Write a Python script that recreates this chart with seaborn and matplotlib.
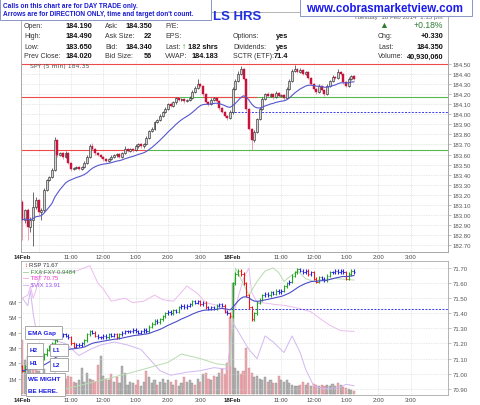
import numpy as np
import pandas as pd
import matplotlib
matplotlib.use("Agg")
import matplotlib.pyplot as plt
import seaborn as sns
from matplotlib.patches import Rectangle

sns.set_style("white")
plt.rcParams["font.family"] = ["Liberation Sans", "DejaVu Sans"]

# ---------------- data ----------------
# SPY 5-min closes: bars 0-77 = 14 Feb, bars 78-123 = 18 Feb
spy_close = [
    182.95, 183.05, 182.88, 182.95, 183.08, 183.15, 183.03, 183.05, 183.25, 183.35,
    183.38, 183.45, 183.74, 183.60, 183.62, 183.58, 183.62, 183.52, 183.46, 183.47,
    183.48, 183.46, 183.48, 183.52, 183.58, 183.68, 183.66, 183.62, 183.60, 183.58,
    183.56, 183.54, 183.56, 183.58, 183.60, 183.61, 183.58, 183.62, 183.66, 183.64,
    183.66, 183.65, 183.68, 183.70, 183.68, 183.70, 183.76, 183.83, 183.85, 183.92,
    183.94, 183.98, 184.02, 184.05, 184.10, 184.08, 184.12, 184.16, 184.14, 184.15,
    184.13, 184.14, 184.16, 184.22, 184.26, 184.30, 184.28, 184.20, 184.12, 184.10,
    184.14, 184.16, 184.13, 184.06, 184.02, 183.98, 183.96, 184.02,
    184.25, 184.33, 184.40, 184.45, 184.35, 184.05, 183.85, 183.74, 183.82, 183.95,
    184.05, 184.15, 184.20, 184.18, 184.20, 184.17, 184.21, 184.18, 184.19, 184.16,
    184.25, 184.33, 184.43, 184.45, 184.42, 184.44, 184.40, 184.42, 184.36, 184.30,
    184.25, 184.22, 184.28, 184.24, 184.20, 184.28, 184.33, 184.37, 184.36, 184.42,
    184.40, 184.32, 184.28, 184.35, 184.38, 184.35,
]
spy_open0 = 183.13
# wick size in cents above / below the candle body
spy_hi_wick = [
    2, 1, 2, 3, 15, 3, 1, 2, 2, 1, 1, 2, 3, 1, 1, 1, 2, 1, 1, 1, 1, 1, 1, 2, 2, 2,
    3, 1, 1, 1, 1, 1, 1, 2, 1, 1, 1, 1, 2, 1, 1, 1, 2, 1, 1, 1, 2, 1, 2, 1, 1, 2,
    1, 2, 1, 2, 1, 1, 1, 1, 1, 1, 2, 2, 2, 5, 1, 1, 1, 1, 2, 1, 1, 1, 1, 1, 1, 2,
    2, 2, 3, 3, 1, 1, 1, 1, 2, 1, 2, 2, 1, 2, 1, 1, 2, 1, 1, 1, 2, 2, 2, 4, 1, 2,
    1, 1, 1, 1, 1, 1, 2, 1, 1, 2, 1, 2, 1, 3, 1, 1, 1, 2, 1, 1,
]
spy_lo_wick = [
    20, 3, 13, 5, 26, 2, 3, 8, 2, 1, 1, 1, 1, 2, 1, 2, 1, 1, 2, 1, 1, 1, 1, 1, 1, 1,
    1, 2, 1, 1, 2, 1, 1, 1, 1, 2, 1, 1, 1, 1, 1, 2, 1, 1, 1, 1, 1, 1, 1, 1, 1, 1,
    1, 1, 1, 1, 1, 2, 1, 1, 2, 1, 1, 1, 1, 1, 1, 2, 1, 2, 1, 1, 1, 2, 1, 1, 2, 1,
    2, 1, 1, 1, 1, 2, 1, 9, 2, 1, 1, 1, 1, 1, 1, 2, 1, 1, 1, 2, 1, 1, 1, 1, 1, 1,
    1, 1, 1, 1, 1, 2, 1, 1, 2, 1, 1, 1, 1, 1, 1, 2, 1, 1, 1, 1,
]
spy_top_level = 184.50
spy_mid_level = 184.17
spy_low_level = 183.65
spy_prev_close = 184.02

# RSP 5-min closes, same bars
rsp_close = [
    71.02, 71.05, 71.10, 71.12, 71.08, 71.05, 71.06, 71.10, 71.13, 71.16,
    71.18, 71.20, 71.22, 71.24, 71.25, 71.26, 71.25, 71.24, 71.20, 71.18,
    71.19, 71.19, 71.20, 71.22, 71.26, 71.28, 71.27, 71.25, 71.24, 71.24,
    71.25, 71.24, 71.26, 71.25, 71.26, 71.24, 71.26, 71.27, 71.28, 71.28,
    71.28, 71.29, 71.28, 71.27, 71.28, 71.29, 71.28, 71.31, 71.33, 71.35,
    71.34, 71.36, 71.38, 71.40, 71.41, 71.40, 71.42, 71.41, 71.44, 71.45,
    71.44, 71.45, 71.46, 71.48, 71.47, 71.48, 71.46, 71.47, 71.44, 71.43,
    71.44, 71.43, 71.45, 71.46, 71.45, 71.41, 71.40, 71.38,
    71.60, 71.66, 71.68, 71.66, 71.60, 71.52, 71.44, 71.36, 71.40, 71.47,
    71.49, 71.52, 71.53, 71.52, 71.54, 71.53, 71.55, 71.54, 71.55, 71.58,
    71.60, 71.61, 71.65, 71.67, 71.69, 71.68, 71.67, 71.68, 71.66, 71.67,
    71.63, 71.61, 71.64, 71.63, 71.62, 71.65, 71.67, 71.67, 71.68, 71.67,
    71.68, 71.67, 71.63, 71.66, 71.68, 71.67,
]
rsp_open0 = 71.05
rsp_prev_close = 71.43
# volume in millions
volume_m = [
    3.5, 2.2, 2.5, 1.8, 2.0, 1.6, 1.5, 1.3, 1.6, 1.2,
    1.0, 1.1, 1.4, 1.2, 0.9, 0.8, 1.0, 1.2, 1.1, 0.8,
    0.7, 0.9, 1.7, 0.8, 1.4, 1.0, 0.9, 0.8, 1.9, 2.5,
    1.2, 1.0, 0.9, 1.3, 0.8, 1.1, 0.7, 1.8, 1.4, 0.6,
    0.8, 0.7, 0.6, 0.9, 0.5, 0.8, 1.5, 1.1, 0.7, 0.9,
    0.6, 0.8, 1.0, 0.7, 0.9, 0.8, 0.6, 0.9, 0.5, 0.7,
    1.1, 0.8, 0.9, 0.7, 0.6, 1.0, 0.8, 1.3, 1.4, 1.0,
    0.9, 1.2, 1.1, 1.4, 1.6, 1.3, 2.0, 5.0,
    7.2, 1.7, 1.5, 1.3, 1.5, 3.0, 1.7, 1.4, 1.1, 1.2,
    1.0, 0.9, 1.1, 0.8, 0.9, 0.7, 0.7, 1.2, 0.9, 0.8,
    0.9, 0.7, 0.6, 0.55, 0.55, 0.6, 0.8, 0.6, 0.7, 0.55,
    0.65, 0.6, 0.55, 0.6, 0.5, 0.6, 0.55, 0.65, 0.5, 0.7,
    0.6, 0.45, 0.4, 0.3, 0.25, 0.2,
]

# overlays, drawn on the RSP price scale
tbt_bar = [0, 2, 3, 4, 5, 6, 7, 8, 16, 20, 25, 28, 30, 33, 38, 41, 45, 49, 52, 56,
           61, 65, 68, 73, 78, 82, 84, 85, 87, 89, 93, 98, 103, 107, 110, 114, 118, 123]
tbt_line = [71.50, 71.52, 71.58, 71.50, 71.55, 71.62, 71.68, 71.67, 71.67, 71.68,
            71.715, 71.60, 71.56, 71.48, 71.50, 71.47, 71.48, 71.52, 71.49, 71.48,
            71.58, 71.53, 71.47, 71.45, 71.38, 71.63, 71.70, 71.54, 71.47, 71.47,
            71.46, 71.45, 71.43, 71.41, 71.37, 71.32, 71.285, 71.28]
vix_bar = [0, 2, 3, 4, 5, 6, 16, 21, 25, 29, 34, 39, 44, 47, 51, 55, 61, 66, 71, 76,
           78, 84, 87, 90, 93, 97, 100, 103, 105, 108, 112, 118, 120, 123]
vix_line = [71.50, 71.45, 71.55, 71.40, 71.30, 71.25, 71.20, 71.12, 71.16, 71.19,
            71.21, 71.19, 71.16, 71.10, 71.02, 70.99, 71.01, 71.02, 71.04, 71.03,
            71.34, 71.16, 71.10, 71.25, 71.21, 71.14, 71.25, 71.14, 71.03, 70.92,
            70.90, 70.91, 70.93, 70.92]
fx_bar = [16, 29, 41, 54, 59, 66, 72, 77, 79, 84, 87, 90, 93, 95, 97, 99, 102, 105,
          108, 110, 116, 123]
fx_line = [70.90, 70.955, 71.01, 71.075, 71.13, 71.10, 71.065, 71.055, 71.70, 71.52,
           71.61, 71.68, 71.70, 71.67, 71.61, 71.64, 71.68, 71.63, 71.61, 71.62,
           71.63, 71.62]

tick_bars = [0, 18, 30, 42, 54, 66, 78, 96, 108, 120, 132, 144]
tick_labels = ["14Feb", "11:00", "12:00", "1:00", "2:00", "3:00",
               "18Feb", "11:00", "12:00", "1:00", "2:00", "3:00"]
hour_bars = [6, 18, 30, 42, 54, 66, 78, 84, 96, 108, 120, 132, 144]
spy_ticks = [182.70, 182.80, 182.90, 183.00, 183.10, 183.20, 183.30, 183.40, 183.50,
             183.60, 183.70, 183.80, 183.90, 184.00, 184.10, 184.20, 184.30, 184.40, 184.50]
rsp_ticks = [70.90, 71.00, 71.10, 71.20, 71.30, 71.40, 71.50, 71.60, 71.70]
vol_ticks = [1, 2, 3, 4, 5, 6]
vol_labels = ["1M", "2M", "3M", "4M", "5M", "6M"]

# ---------------- frames ----------------
W, H = 480, 406
fig = plt.figure(figsize=(4.8, 4.06), dpi=100)


def fx(x):
    return x / W


def fy(y):
    return 1 - y / H


def ftext(x, y, s, **kw):
    kw.setdefault("va", "center")
    fig.text(fx(x), fy(y), s, **kw)


GRID = "#d2d2d2"
SPINE = "#a8a8a8"
XMIN, XMAX = -0.5, 157.8

spy = pd.DataFrame({"bar": np.arange(len(spy_close)), "close": spy_close})
spy["open"] = [spy_open0] + spy_close[:-1]
spy["top"] = spy[["open", "close"]].max(axis=1)
spy["bot"] = spy[["open", "close"]].min(axis=1)
spy["high"] = spy["top"] + np.array(spy_hi_wick) / 100
spy["low"] = spy["bot"] - np.array(spy_lo_wick) / 100
spy["ema"] = spy["close"].ewm(span=20, adjust=False).mean()

rsp = pd.DataFrame({"bar": np.arange(len(rsp_close)), "close": rsp_close,
                    "vol": volume_m})
rsp["open"] = [rsp_open0] + rsp_close[:-1]
rsp["ema"] = rsp["close"].ewm(span=20, adjust=False).mean()

# ---------------- price panel ----------------
ax1 = fig.add_axes([fx(21), fy(253), fx(448) - fx(21), fy(61) - fy(253)])
ax1.set_xlim(XMIN, XMAX)
ax1.set_ylim(182.631, 184.54)
for b in hour_bars:
    ax1.axvline(b, ls=(0, (1, 1.5)), lw=0.5, color=GRID, zorder=0)
for t in spy_ticks:
    ax1.axhline(t, ls=(0, (1, 1.5)), lw=0.5, color=GRID, zorder=0)

ax1.hlines(spy_top_level, XMIN, XMAX, color="#ee4a4a", lw=0.8, zorder=2)
ax1.hlines(spy_mid_level, 58, XMAX, color="#58b84e", lw=0.8, zorder=2)
ax1.hlines(spy_mid_level, XMIN, 58, color="#ee4a4a", lw=0.8, zorder=2)
ax1.hlines(spy_mid_level, 67, 87, color="#ee4a4a", lw=0.8, zorder=2)
ax1.hlines(spy_low_level, XMIN, 46, color="#ee4a4a", lw=0.8, zorder=2)
ax1.hlines(spy_low_level, 46, XMAX, color="#58b84e", lw=0.8, zorder=2)
ax1.hlines(spy_prev_close, 77.5, XMAX, color="#3a3aee", lw=0.7,
           linestyles=(0, (2, 1.5)), zorder=2)

up = spy["close"] >= spy["open"]
dn = ~up
ax1.vlines(spy["bar"][up], spy["low"][up], spy["high"][up], color="#333333", lw=0.5, zorder=3)
ax1.vlines(spy["bar"][dn], spy["low"][dn], spy["high"][dn], color="#e8788c", lw=0.5, zorder=3)
body = (spy["top"] - spy["bot"]).clip(lower=0.008)
ax1.bar(spy["bar"][up], body[up], bottom=spy["bot"][up], width=0.72,
        color="#d4d4d4", edgecolor="#1e1e1e", lw=0.4, zorder=4)
ax1.bar(spy["bar"][dn], body[dn], bottom=spy["bot"][dn], width=0.72,
        color="#d3123c", edgecolor="#b80f33", lw=0.3, zorder=4)
sns.lineplot(data=spy, x="bar", y="ema", ax=ax1, color="#5656cf", lw=0.8, zorder=5)

ax1.set_xlabel("")
ax1.set_ylabel("")
ax1.yaxis.tick_right()
ax1.set_yticks(spy_ticks)
ax1.set_yticklabels([f"{t:.2f}" for t in spy_ticks])
ax1.set_xticks(tick_bars)
ax1.set_xticklabels(tick_labels)
ax1.tick_params(axis="y", length=2, width=0.5, color=SPINE, labelsize=4.3,
                pad=1.5, labelcolor="#555555")
ax1.tick_params(axis="x", length=0, labelsize=4.3, pad=1.8, labelcolor="#444444")
for lab in ax1.get_xticklabels():
    if "Feb" in lab.get_text():
        lab.set_fontweight("bold")
        lab.set_color("#222222")
for s in ["left", "right", "bottom"]:
    ax1.spines[s].set_color(SPINE)
    ax1.spines[s].set_linewidth(0.6)
ax1.spines["top"].set_visible(False)

ax1.text(0.02, 0.985, "SPY (5 min) 184.35", transform=ax1.transAxes, fontsize=4.5,
         color="#555555", va="top", ha="left", zorder=6, family=["DejaVu Sans"])

# header frame
fig.add_artist(Rectangle((fx(21), fy(253)), fx(448) - fx(21), fy(13) - fy(253),
                         transform=fig.transFigure, fill=False, ec=SPINE, lw=0.6, zorder=1))

# ---------------- lower panel ----------------
ax2 = fig.add_axes([fx(21), fy(396), fx(448) - fx(21), fy(262) - fy(396)])
ax2.set_xlim(XMIN, XMAX)
ax2.set_ylim(-0.06, 8.65)
for b in hour_bars:
    ax2.axvline(b, ls=(0, (1, 1.5)), lw=0.5, color=GRID, zorder=0)

vdn = rsp["close"] < rsp["open"]
ax2.bar(rsp["bar"][vdn], rsp["vol"][vdn], width=0.78, color="#eaaab0",
        edgecolor="#cf8890", lw=0.3, zorder=2)
ax2.bar(rsp["bar"][~vdn], rsp["vol"][~vdn], width=0.78, color="#b4b4b4",
        edgecolor="#8c8c8c", lw=0.3, zorder=2)
ax2.set_yticks(vol_ticks)
ax2.set_yticklabels(vol_labels)
ax2.set_xticks(tick_bars)
ax2.set_xticklabels(tick_labels)
ax2.tick_params(axis="y", length=2, width=0.5, color=SPINE, labelsize=4.3,
                pad=1, labelcolor="#555555")
ax2.tick_params(axis="x", length=0, labelsize=4.3, pad=1.8, labelcolor="#444444")
for lab in ax2.get_xticklabels():
    if "Feb" in lab.get_text():
        lab.set_fontweight("bold")
        lab.set_color("#222222")
for s in ax2.spines.values():
    s.set_color(SPINE)
    s.set_linewidth(0.6)

ax3 = ax2.twinx()
ax3.set_xlim(XMIN, XMAX)
ax3.set_ylim(70.859, 71.746)
for t in rsp_ticks:
    ax3.axhline(t, ls=(0, (1, 1.5)), lw=0.5, color=GRID, zorder=0)
sns.lineplot(x=vix_bar, y=vix_line, ax=ax3, color="#d2b8f0", lw=0.7, zorder=1)
sns.lineplot(x=tbt_bar, y=tbt_line, ax=ax3, color="#ecbcee", lw=0.7, zorder=1)
sns.lineplot(x=fx_bar, y=fx_line, ax=ax3, color="#b8dcb0", lw=0.7, zorder=1)
ax3.hlines(rsp_prev_close, 77.5, XMAX, color="#3a3aee", lw=0.7,
           linestyles=(0, (2, 1.5)), zorder=2)

diff = rsp["close"] - rsp["open"]
bar_col = np.where(diff > 0.012, "#1fa51f", np.where(diff < -0.012, "#ee1515", "#2424e0"))
rtop = rsp[["open", "close"]].max(axis=1) + 0.01
rbot = rsp[["open", "close"]].min(axis=1) - 0.01
ax3.vlines(rsp["bar"], rbot, rtop, colors=bar_col, lw=0.8, zorder=4)
ax3.hlines(rsp["open"], rsp["bar"] - 0.45, rsp["bar"], colors=bar_col, lw=0.6, zorder=4)
ax3.hlines(rsp["close"], rsp["bar"], rsp["bar"] + 0.45, colors=bar_col, lw=0.6, zorder=4)
sns.lineplot(data=rsp, x="bar", y="ema", ax=ax3, color="#4c4cc8", lw=0.8, zorder=5)
ax3.set_xlabel("")
ax3.set_ylabel("")
ax3.set_yticks(rsp_ticks)
ax3.set_yticklabels([f"{t:.2f}" for t in rsp_ticks])
ax3.tick_params(axis="y", length=2, width=0.5, color=SPINE, labelsize=4.3,
                pad=1.5, labelcolor="#555555")
for s in ax3.spines.values():
    s.set_visible(False)

# lower panel legend
ftext(24, 266, "\u2195", fontsize=4.3, color="#cc2222")
ftext(29, 266, "RSP 71.67", fontsize=4.3, color="#333333")
ftext(23, 272.5, "\u2014 FXA:FXY 0.9484", fontsize=4.3, color="#2e8b2e")
ftext(23, 279, "\u2014 TBT 70.75", fontsize=4.3, color="#f032c8")
ftext(23, 285.5, "\u2014 $VIX 13.91", fontsize=4.3, color="#9a4ce8")


def note_box(x0, y0, x1, y1, lines):
    fig.add_artist(Rectangle((fx(x0), fy(y1)), fx(x1) - fx(x0), fy(y0) - fy(y1),
                             transform=fig.transFigure, fc="white", ec="#9a9a9a",
                             lw=0.6, zorder=5))
    step = (y1 - y0) / len(lines)
    for k, s in enumerate(lines):
        fig.text(fx(x0 + 2.5), fy(y0 + step * (k + 0.5)), s, fontsize=4.6,
                 fontweight="bold", color="#1c1ce0", va="center", zorder=6)


note_box(25, 327, 62, 340, ["EMA Gap"])
note_box(27, 344, 43, 357, ["H2"])
note_box(27, 357, 43, 370, ["H1"])
note_box(50, 345, 68, 357, ["L1"])
note_box(50, 359, 68, 372, ["L2"])
note_box(26, 374, 65, 397, ["WE MIGHT", "BE HERE."])

# ---------------- header ----------------
LAB = dict(fontsize=5, color="#333333", zorder=3)
VAL = dict(fontsize=5.3, color="#111111", fontweight="bold", ha="right", zorder=3)
rows = [26.5, 37, 47.3, 57]
for y, l, v in zip(rows, ["Open:", "High:", "Low:", "Prev Close:"],
                   ["184.190", "184.490", "183.650", "184.020"]):
    ftext(24, y, l, **LAB)
    ftext(92, y, v, **VAL)
for y, l, v in zip(rows, ["Ask:", "Ask Size:", "Bid:", "Bid Size:"],
                   ["184.350", "22", "184.340", "56"]):
    ftext(105, y, l, **LAB)
    ftext(152, y, v, **VAL)
for y, l in zip(rows, ["P/E:", "EPS:", "Last:", "VWAP:"]):
    ftext(165, y, l, **LAB)
ftext(182, rows[2], "\u2191", fontsize=6, color="#2e8b2e", fontweight="bold", zorder=3)
ftext(218, rows[2], "182 shrs", **VAL)
ftext(218, rows[3], "184.183", **VAL)
for y, l, v in zip(rows[1:], ["Options:", "Dividends:", "SCTR (ETF):"],
                   ["yes", "yes", "71.4"]):
    ftext(233, y, l, **LAB)
    ftext(288, y, v, **VAL)
for y, l, v in zip(rows[1:], ["Chg:", "Last:", "Volume:"],
                   ["+0.330", "184.350", "40,930,060"]):
    ftext(378, y, l, **LAB)
    ftext(443, y, v, **VAL)
ftext(383.5, 25.5, "\u25b2", fontsize=6.5, color="#2e7d32", ha="center", zorder=3)
ftext(443, 25, "+0.18%", fontsize=6.2, color="#2e7d32", ha="right", zorder=3)
ftext(443, 17.5, "Tuesday  18 Feb 2014  1:15 pm", fontsize=4.5, color="#666666",
      ha="right", zorder=3)
ftext(213, 17.5, "LS HRS", fontsize=9.5, color="#2233dd", fontweight="bold", zorder=3)

# overlay boxes
fig.add_artist(Rectangle((fx(0), fy(20.5)), fx(211), fy(0) - fy(20.5),
                         transform=fig.transFigure, fc="white", ec="#8a96c8",
                         lw=0.7, zorder=8))
ftext(3, 6.3, "Calls on this chart are for DAY TRADE only.", fontsize=4.7,
      fontweight="bold", color="#1a1ad0", zorder=9)
ftext(3, 15, "Arrows are for DIRECTION ONLY, time and target don't count.",
      fontsize=4.7, fontweight="bold", color="#1a1ad0", zorder=9)
fig.add_artist(Rectangle((fx(300), fy(17)), fx(472) - fx(300), fy(0) - fy(17),
                         transform=fig.transFigure, fc="white", ec="#8a96c8",
                         lw=0.7, zorder=8))
ftext(385, 8.5, "www.cobrasmarketview.com", fontsize=8.3, fontweight="bold",
      color="#1a1aee", ha="center", zorder=9)

fig.savefig("out.png", dpi=100, facecolor="white")
